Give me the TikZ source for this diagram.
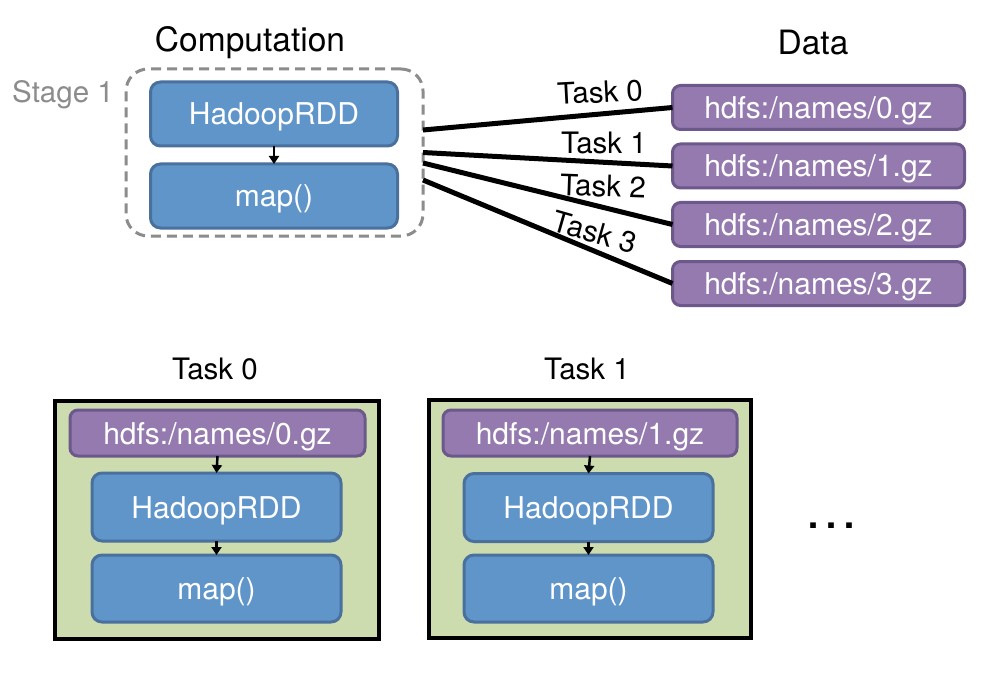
\documentclass[tikz,border=0pt]{standalone}
\usepackage{fontspec}
\setmainfont{TeX Gyre Heros}
\usetikzlibrary{arrows.meta}

\definecolor{rddfill}{RGB}{96,149,201}
\definecolor{rddline}{RGB}{74,112,158}
\definecolor{filefill}{RGB}{148,122,174}
\definecolor{fileline}{RGB}{108,88,138}
\definecolor{taskfill}{RGB}{205,220,175}
\definecolor{stagegray}{RGB}{140,140,140}

\tikzset{
  rdd/.style={draw=rddline, fill=rddfill, line width=3pt, rounded corners=10pt,
    text=white, font=\fontsize{30}{34}\selectfont, inner sep=0pt, outer sep=0pt,
    text depth=0pt, text height=22pt},
  file/.style={draw=fileline, fill=filefill, line width=3pt, rounded corners=8pt,
    text=white, font=\fontsize{30}{34}\selectfont, inner sep=0pt, outer sep=0pt,
    text depth=0pt, text height=22pt},
  stagebox/.style={draw=stagegray, line width=3pt, dash pattern=on 10pt off 6pt,
    rounded corners=22pt, inner sep=0pt, outer sep=0pt},
  taskbox/.style={draw=black, fill=taskfill, line width=4pt, inner sep=0pt, outer sep=0pt},
  title/.style={font=\fontsize{33.5}{38}\selectfont, inner sep=0pt},
  label/.style={font=\fontsize{29.5}{34}\selectfont, inner sep=0pt},
  link/.style={line width=5pt},
  flow/.style={line width=2.5pt, -{Triangle[length=8pt,width=10pt]}}
}

\begin{document}
\begin{tikzpicture}[x=1pt, y=-1pt]
  \useasboundingbox[fill=white] (0,0) rectangle (981,676);

  % headings
  \node[title] (comp) at (250,43) {Computation};
  \node[title] (data) at (813,43) {Data};
  \node[label, text=stagegray] (stagelbl) at (63,95) {Stage 1};

  % stage 1 pipeline
  \node[stagebox, minimum width=297pt, minimum height=167pt] (stage) at (274.5,152.5) {};
  \node[rdd, minimum width=247pt, minimum height=64pt] (hr) at (274,114) {HadoopRDD};
  \node[rdd, minimum width=247pt, minimum height=64pt] (mp) at (274,196) {map()};
  \draw[flow] (hr.south) -- (mp.north);

  % input files
  \node[file, minimum width=292pt, minimum height=44pt] (d0) at (818.5,107.5) {hdfs:/names/0.gz};
  \node[file, minimum width=292pt, minimum height=44pt] (d1) at (818.5,166) {hdfs:/names/1.gz};
  \node[file, minimum width=292pt, minimum height=44pt] (d2) at (818.5,224.5) {hdfs:/names/2.gz};
  \node[file, minimum width=292pt, minimum height=44pt] (d3) at (818.5,283.5) {hdfs:/names/3.gz};

  % one task per file
  \draw[link] ([yshift=22.5pt]stage.east) -- (d0.west);
  \draw[link] (stage.east) -- (d1.west);
  \draw[link] ([yshift=-10.5pt]stage.east) -- (d2.west);
  \draw[link] ([yshift=-27.5pt]stage.east) -- (d3.west);
  \node[label, rotate=3] (t0) at (600,92) {Task 0};
  \node[label] (t1) at (604,143) {Task 1};
  \node[label, rotate=-2] (t2) at (603,186) {Task 2};
  \node[label, rotate=-16] (t3) at (595,232) {Task 3};

  % task 0 detail
  \node[label] (bt0) at (215,369) {Task 0};
  \node[taskbox, minimum width=324pt, minimum height=238pt] (g0) at (217,520) {};
  \node[file, minimum width=295pt, minimum height=46pt] (f0) at (217.5,433) {hdfs:/names/0.gz};
  \node[rdd, minimum width=249pt, minimum height=68pt] (hr0) at (216.5,507) {HadoopRDD};
  \node[rdd, minimum width=249pt, minimum height=67pt] (mp0) at (216.5,588.5) {map()};
  \draw[flow] (f0.south) -- (hr0.north);
  \draw[flow] (hr0.south) -- (mp0.north);

  % task 1 detail
  \node[label] (bt1) at (587,369) {Task 1};
  \node[taskbox, minimum width=322pt, minimum height=238pt] (g1) at (590,519) {};
  \node[file, minimum width=294pt, minimum height=46pt] (f1) at (590,433) {hdfs:/names/1.gz};
  \node[rdd, minimum width=249pt, minimum height=68pt] (hr1) at (588.5,507.5) {HadoopRDD};
  \node[rdd, minimum width=249pt, minimum height=67pt] (mp1) at (588.5,588.5) {map()};
  \draw[flow] (f1.south) -- (hr1.north);
  \draw[flow] (hr1.south) -- (mp1.north);

  % further tasks
  \node[font=\fontsize{54}{60}\selectfont, inner sep=0pt, anchor=base] (more) at (831,528) {…};
\end{tikzpicture}
\end{document}
